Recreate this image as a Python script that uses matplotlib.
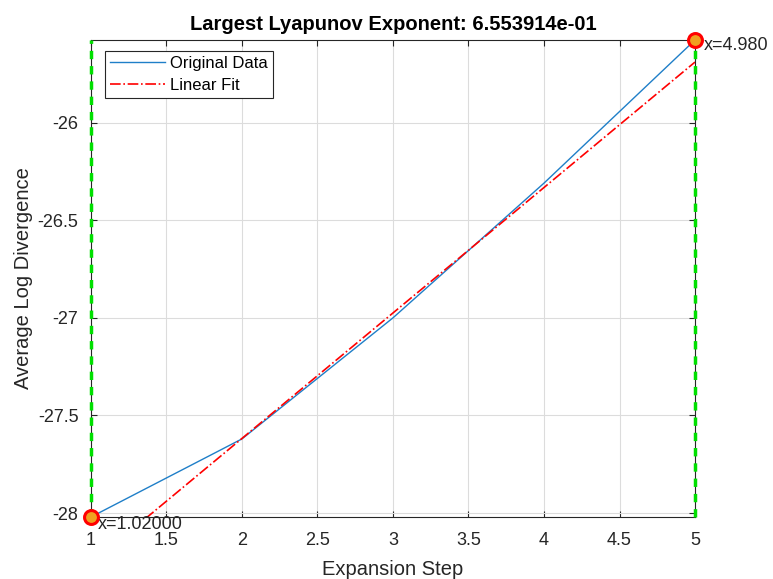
import matplotlib
matplotlib.use('Agg')
import matplotlib.pyplot as plt

plt.rcParams['font.family'] = ['Liberation Sans', 'DejaVu Sans']

# data
steps = [1, 2, 3, 4, 5]
avg_log_div = [-28.02, -27.62, -27.0, -26.31, -25.577]
fit_x = [1, 5]
fit_y = [-28.26, -25.69]
lyap = 6.553914e-01
range_x = [1, 5]
range_y = [-28.02, -25.577]
range_labels = ['x=1.02000', 'x=4.980']

fig = plt.figure(figsize=(7.73, 5.79), dpi=100)
ax = fig.add_axes([0.1177, 0.1071, 0.7814, 0.8238])

ax.plot(steps, avg_log_div, color='#1f7fc8', lw=1.0, label='Original Data')
ax.plot(fit_x, fit_y, color='red', ls='-.', lw=1.2, label='Linear Fit')

for xv in range_x:
    ax.axvline(xv, color='#00e000', ls=(0, (2.4, 2.0)), lw=2.5, zorder=3,
               clip_on=False)
ax.plot(range_x, range_y, 'o', ms=10, mfc='#f0a020', mec='red', mew=2.2,
        zorder=5, clip_on=False)
ax.annotate(range_labels[0], (range_x[0], range_y[0]), xytext=(5, -9),
            textcoords='offset points', fontsize=13, color='#262626',
            annotation_clip=False)
ax.annotate(range_labels[1], (range_x[1], range_y[1]), xytext=(6, -7),
            textcoords='offset points', fontsize=13, color='#262626',
            annotation_clip=False)

ax.set_xlim(1, 5)
ax.set_ylim(-28.02, -25.577)
ax.set_xticks([1, 1.5, 2, 2.5, 3, 3.5, 4, 4.5, 5])
ax.set_xticklabels(['1', '1.5', '2', '2.5', '3', '3.5', '4', '4.5', '5'])
ax.set_yticks([-28, -27.5, -27, -26.5, -26])
ax.set_yticklabels(['-28', '-27.5', '-27', '-26.5', '-26'])

ax.grid(True, color='#dcdcdc', lw=0.8)
ax.set_axisbelow(True)
ax.tick_params(direction='in', top=True, right=True, labelsize=13,
               colors='#262626', length=4)
ax.tick_params(axis='x', pad=11)
ax.tick_params(axis='y', pad=9)
for s in ax.spines.values():
    s.set_color('#262626')

ax.set_xlabel('Expansion Step', fontsize=14.5, color='#262626', labelpad=8)
ax.set_ylabel('Average Log Divergence', fontsize=14.5, color='#262626',
              labelpad=3)
ax.set_title('Largest Lyapunov Exponent: {:.6e}'.format(lyap),
             fontsize=14.5, fontweight='bold', pad=7)

leg = ax.legend(loc='upper left', fontsize=12, fancybox=False,
                edgecolor='#262626', framealpha=1, borderpad=0.3,
                handlelength=3.3, handletextpad=0.3, labelspacing=0.45,
                bbox_to_anchor=(0.01, 0.995))
leg.get_frame().set_linewidth(0.8)

fig.savefig('out.png', dpi=100)
